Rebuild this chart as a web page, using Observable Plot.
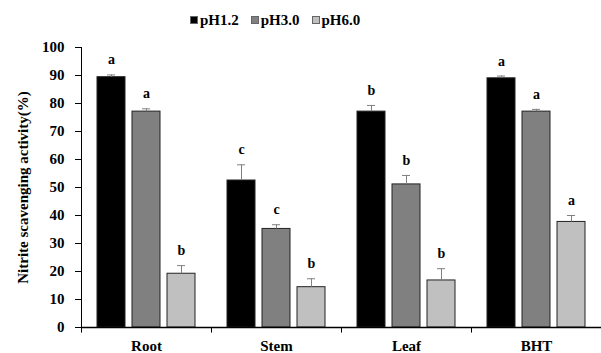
<!DOCTYPE html>
<html><head><meta charset="utf-8">
<script src="https://cdn.jsdelivr.net/npm/d3@7"></script>
<script src="https://cdn.jsdelivr.net/npm/@observablehq/plot@0.6"></script>
<style>
body{margin:0;background:#fff;font-family:'Liberation Serif';font-weight:bold;color:#000}
#legend{height:30px;box-sizing:border-box;padding-top:10px;padding-left:190px;display:flex;align-items:center;font-size:15px;line-height:16px;font-family:'Liberation Serif'}
.item{display:flex;align-items:center;margin-right:12px}
.sw{width:6px;height:6px;border:1px solid #666;margin-right:2px}
#chart svg, #chart svg text{font-family:'Liberation Serif' !important;font-weight:bold}
</style></head><body>
<div id="legend"></div><div id="chart"></div>
<script>
const categories = ["Root", "Stem", "Leaf", "BHT"];
const series = ["pH1.2", "pH3.0", "pH6.0"];
const colors = ["#000000", "#808080", "#c0c0c0"];
const pH12 = [89.4, 52.5, 77.1, 89.0];
const pH30 = [77.1, 35.2, 51.1, 77.1];
const pH60 = [19.2, 14.4, 16.8, 37.7];
const err12 = [0.8, 5.6, 2.2, 0.8];
const err30 = [1.0, 1.5, 3.2, 0.8];
const err60 = [2.9, 3.0, 4.2, 2.3];
const let12 = ["a", "c", "b", "a"];
const let30 = ["a", "c", "b", "a"];
const let60 = ["b", "b", "b", "a"];
const yTicks = [0, 10, 20, 30, 40, 50, 60, 70, 80, 90, 100];
const yLabel = "Nitrite scavenging activity(%)";

const vals = [pH12, pH30, pH60], errs = [err12, err30, err60], lets = [let12, let30, let60];
const rows = [];
categories.forEach((c, i) => series.forEach((s, j) => rows.push({cat: c, series: s, value: vals[j][i], err: errs[j][i], letter: lets[j][i]})));

const legend = document.getElementById("legend");
series.forEach((s, j) => {
  const it = document.createElement("div"); it.className = "item";
  const sw = document.createElement("div"); sw.className = "sw"; sw.style.background = colors[j];
  const t = document.createElement("span"); t.textContent = s;
  it.appendChild(sw); it.appendChild(t); legend.appendChild(it);
});

const errTop = d => d.value + d.err;
const chart = Plot.plot({
  width: 601, height: 323,
  marginLeft: 81, marginRight: 0, marginTop: 17, marginBottom: 26,
  style: {fontFamily: "Liberation Serif", fontSize: "15px", fontWeight: "bold", color: "#000", background: "#fff"},
  fx: {domain: categories, padding: 0, label: null},
  x: {domain: series, paddingInner: 0.21, paddingOuter: 0.46, axis: null},
  y: {domain: [0, 100], label: null},
  color: {domain: series, range: colors},
  marks: [
    Plot.axisY({ticks: yTicks, tickSize: 6, tickPadding: 11, label: null}),
    Plot.axisFx({anchor: "bottom", tickSize: 0, tickPadding: 13, label: null}),
    Plot.text([yLabel], {fx: () => categories[0], text: d => d, frameAnchor: "left", textAnchor: "middle", rotate: -90, dx: -58, fontSize: 15, style: "letter-spacing:0.5px"}),
    Plot.barY(rows, {fx: "cat", x: "series", y: "value", fill: "series", stroke: "#222", strokeWidth: 1}),
    Plot.ruleX(rows, {fx: "cat", x: "series", y1: "value", y2: errTop, stroke: "#808080", strokeWidth: 1}),
    Plot.tickY(rows, {fx: "cat", x: "series", y: errTop, stroke: "#808080", strokeWidth: 1, insetLeft: 10, insetRight: 10}),
    Plot.text(rows, {fx: "cat", x: "series", y: errTop, text: "letter", dy: -15, fontSize: 14}),
    Plot.ruleY([0], {stroke: "#000", strokeWidth: 1.3}),
    Plot.ruleX(categories.slice(0, 3), {fx: d => d, x: () => series[2], y1: 0, y2: -2, dx: 30, stroke: "#000"}),
    Plot.ruleX([categories[0]], {fx: d => d, x: () => series[0], y1: 100, y2: -2, dx: -30, stroke: "#000"})
  ]
});
document.getElementById("chart").appendChild(chart);
</script>
</body></html>
